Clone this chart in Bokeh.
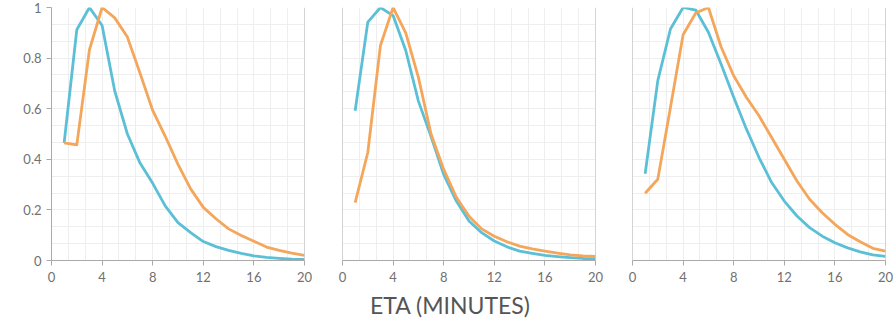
from bokeh.plotting import figure
from bokeh.models import SingleIntervalTicker, Span, CustomJSTickFormatter, Div
from bokeh.layouts import row, column
from bokeh.embed import file_html
from bokeh.resources import INLINE

eta_minutes = list(range(1, 21))

panel1_blue = [0.465, 0.912, 1.0, 0.929, 0.67, 0.50, 0.385, 0.305, 0.215, 0.15, 0.11, 0.075,
               0.055, 0.04, 0.028, 0.018, 0.012, 0.008, 0.005, 0.004]
panel1_orange = [0.465, 0.457, 0.833, 1.0, 0.959, 0.883, 0.74, 0.593, 0.49, 0.38, 0.283, 0.21,
                 0.165, 0.125, 0.099, 0.076, 0.053, 0.04, 0.029, 0.02]

panel2_blue = [0.592, 0.942, 1.0, 0.968, 0.83, 0.63, 0.49, 0.34, 0.235, 0.156, 0.11, 0.077,
               0.054, 0.037, 0.028, 0.02, 0.015, 0.011, 0.008, 0.007]
panel2_orange = [0.229, 0.427, 0.85, 1.0, 0.90, 0.724, 0.50, 0.36, 0.25, 0.175, 0.125, 0.096,
                 0.074, 0.057, 0.046, 0.037, 0.029, 0.022, 0.018, 0.016]

panel3_blue = [0.343, 0.711, 0.915, 1.0, 0.99, 0.902, 0.777, 0.645, 0.52, 0.407, 0.308, 0.235,
               0.176, 0.13, 0.096, 0.07, 0.05, 0.034, 0.022, 0.016]
panel3_orange = [0.266, 0.321, 0.605, 0.892, 0.978, 1.0, 0.845, 0.73, 0.645, 0.572, 0.486, 0.40,
                 0.314, 0.242, 0.189, 0.143, 0.103, 0.074, 0.048, 0.037]

panels = [(panel1_blue, panel1_orange), (panel2_blue, panel2_orange), (panel3_blue, panel3_orange)]

x_label = "ETA (MINUTES)"
BLUE = "#5bbfd6"
ORANGE = "#f4a65b"
AXIS = "#aaaaaa"
GRID = "#eeeeee"
LABEL = "#707070"
FONT = "Lato"

borders = [(51, 10), (28, 10), (27, 8)]

figs = []
for i, ((blue, orange), (bl, br)) in enumerate(zip(panels, borders)):
    p = figure(frame_width=253, frame_height=253, x_range=(0, 20), y_range=(0, 1),
               output_backend="svg", toolbar_location=None,
               min_border_top=7, min_border_bottom=30,
               min_border_left=bl, min_border_right=br)
    p.outline_line_color = None
    p.background_fill_color = "white"
    p.border_fill_color = "white"

    p.xaxis.ticker = SingleIntervalTicker(interval=4, num_minor_ticks=3)
    p.yaxis.ticker = SingleIntervalTicker(interval=0.2, num_minor_ticks=3)
    p.yaxis.formatter = CustomJSTickFormatter(code="return tick.toFixed(1).replace(/\\.0$/, '');")

    for g in (p.xgrid, p.ygrid):
        g.grid_line_color = GRID
        g.minor_grid_line_color = GRID
        g.grid_line_width = 1
        g.minor_grid_line_width = 1

    for ax in (p.xaxis, p.yaxis):
        ax.axis_line_color = AXIS
        ax.major_tick_line_color = AXIS
        ax.major_tick_in = 0
        ax.major_tick_out = 5
        ax.minor_tick_line_color = None
        ax.major_label_text_font = FONT
        ax.major_label_text_font_size = "13px"
        ax.major_label_text_color = LABEL
    p.xaxis.major_label_standoff = 6
    p.yaxis.major_label_standoff = 5

    if i > 0:
        p.yaxis.visible = False
        p.add_layout(Span(location=0, dimension="height", line_color=AXIS, line_width=1))

    p.add_layout(Span(location=20, dimension="height", line_color=AXIS, line_width=1))

    p.line(eta_minutes, blue, line_color=BLUE, line_width=2.8, line_join="round")
    p.line(eta_minutes, orange, line_color=ORANGE, line_width=2.8, line_join="round")
    figs.append(p)

title = Div(text=x_label, width=880, height=30, margin=0,
            styles={"text-align": "center", "font-family": FONT, "font-size": "23px",
                    "color": "#555555", "width": "880px", "line-height": "30px",
                    "padding-left": "20px", "box-sizing": "border-box"})

layout = column(row(*figs), title)

open("out.html", "w").write(file_html(layout, INLINE))
